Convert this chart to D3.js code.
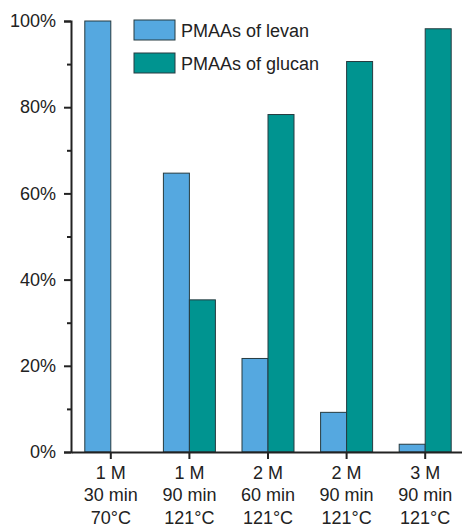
<!DOCTYPE html>
<html>
<head>
<meta charset="utf-8">
<script src="https://cdn.jsdelivr.net/npm/d3@7"></script>
<style>
  body { margin: 0; background: #fff; }
  svg { display: block; font-family: "Liberation Sans", Arial, sans-serif; }
</style>
</head>
<body>
<div id="chart"></div>
<script>
const categories = [
  ['1 M', '30 min', '70°C'],
  ['1 M', '90 min', '121°C'],
  ['2 M', '60 min', '121°C'],
  ['2 M', '90 min', '121°C'],
  ['3 M', '90 min', '121°C']
]
const seriesNames = ['PMAAs of levan', 'PMAAs of glucan']
const levan = [100, 64.7, 21.7, 9.2, 1.8]
const glucan = [0, 35.3, 78.3, 90.6, 98.2]
const yTicks = [0, 20, 40, 60, 80, 100]
const yMinorTicks = [10, 30, 50, 70, 90]

const width = 462
const height = 524
const colors = ['#55a8e0', '#009490']
const fontSize = 18

const svg = d3.select('#chart')
  .append('svg')
  .attr('width', width)
  .attr('height', height)

const x = d3.scaleBand()
  .domain(d3.range(categories.length))
  .range([71.5, 464.5])

const inner = d3.scaleBand()
  .domain([0, 1])
  .range([x.bandwidth() / 2 - 26, x.bandwidth() / 2 + 26])

const y = d3.scaleLinear()
  .domain([0, 100])
  .range([452, 21])

const data = [levan, glucan]

// Bars
data.forEach((vals, s) => {
  svg.append('g')
    .selectAll('rect')
    .data(vals)
    .join('rect')
    .attr('x', (d, i) => x(i) + inner(s))
    .attr('y', d => y(d))
    .attr('width', inner.bandwidth())
    .attr('height', d => y(0) - y(d))
    .attr('fill', colors[s])
    .attr('stroke', d => d > 0 ? '#263b40' : 'none')
    .attr('stroke-width', 1)
})

// Y axis
const yAxis = svg.append('g')
  .attr('transform', 'translate(71,0)')
  .call(d3.axisLeft(y).tickValues(yTicks).tickFormat(d => d + '%').tickSize(7).tickPadding(8))
yAxis.select('.domain').attr('stroke', '#222').attr('stroke-width', 2)
yAxis.selectAll('.tick line').attr('stroke', '#222').attr('stroke-width', 2)
yAxis.selectAll('.tick text').attr('font-size', fontSize).attr('fill', '#222').attr('font-family', '"Liberation Sans", Arial, sans-serif')

svg.append('g')
  .attr('transform', 'translate(71,0)')
  .call(d3.axisLeft(y).tickValues(yMinorTicks).tickFormat('').tickSize(4))
  .call(g => g.select('.domain').remove())
  .selectAll('.tick line').attr('stroke', '#222').attr('stroke-width', 2)

// X axis
const xAxis = svg.append('g')
  .attr('transform', `translate(0,${y(0)})`)
  .call(d3.axisBottom(x).tickSize(7).tickSizeOuter(0).tickFormat(''))
xAxis.select('.domain').attr('stroke', '#222').attr('stroke-width', 2)
xAxis.selectAll('.tick line').attr('stroke', '#222').attr('stroke-width', 2)

xAxis.selectAll('.tick')
  .append('text')
  .attr('fill', '#222')
  .attr('font-size', fontSize)
  .attr('text-anchor', 'middle')
  .selectAll('tspan')
  .data(i => categories[i])
  .join('tspan')
  .attr('x', 0)
  .attr('y', (d, j) => 26.5 + j * 22.5)
  .text(d => d)

// Legend
const legend = svg.append('g')
  .attr('transform', 'translate(134,20)')

seriesNames.forEach((name, i) => {
  const g = legend.append('g')
    .attr('transform', `translate(0, ${i * 33})`)

  g.append('rect')
    .attr('width', 41)
    .attr('height', 20)
    .attr('fill', colors[i])
    .attr('stroke', '#263b40')

  g.append('text')
    .attr('x', 47)
    .attr('y', 17)
    .attr('font-size', fontSize)
    .attr('fill', '#222')
    .text(name)
})
</script>
</body>
</html>
